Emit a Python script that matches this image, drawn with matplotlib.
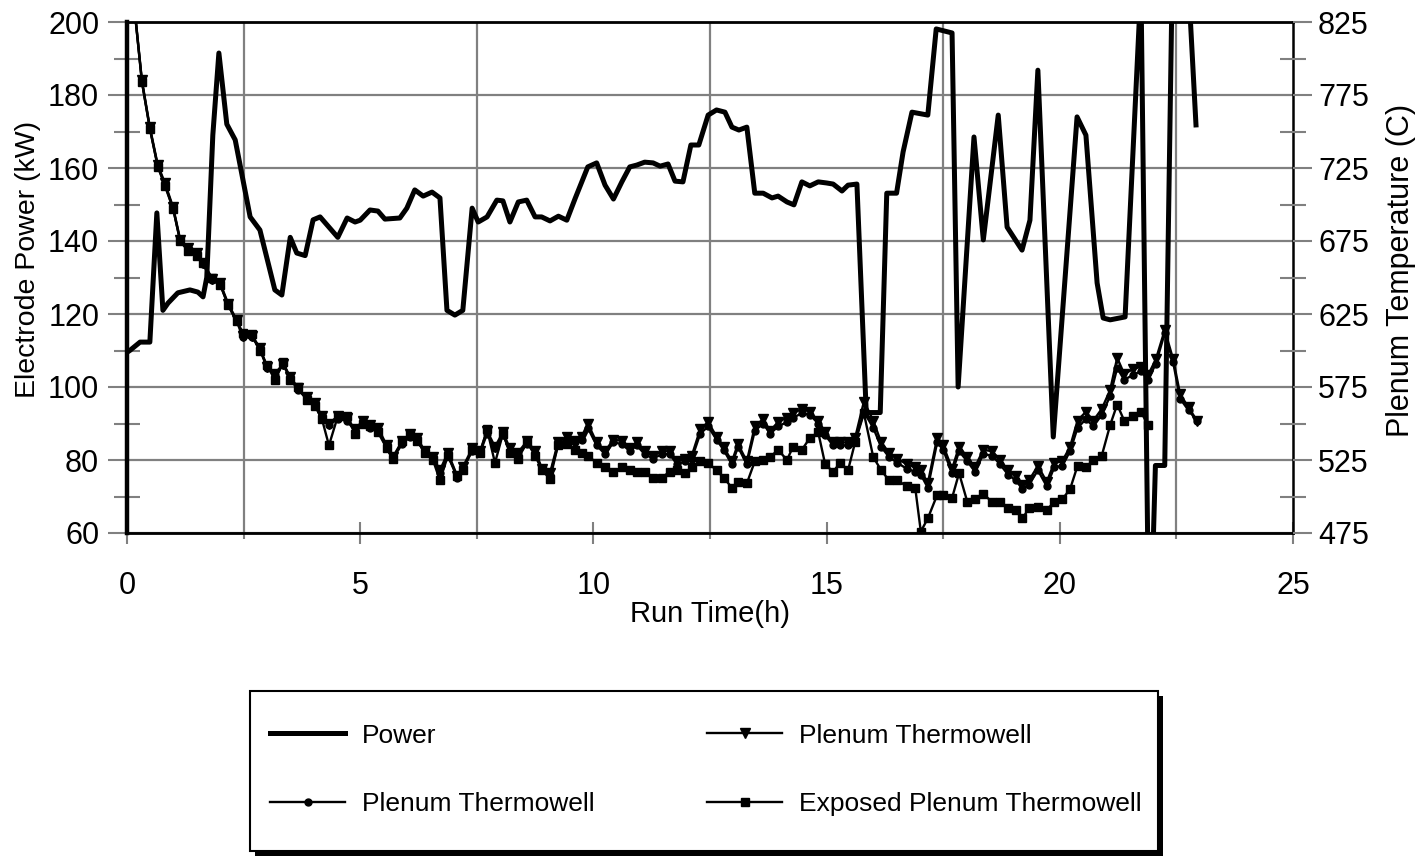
import matplotlib
matplotlib.use("Agg")
import matplotlib.pyplot as plt
from matplotlib.patches import Rectangle
from matplotlib.ticker import MultipleLocator, FixedLocator

plt.rcParams['font.family'] = ['Liberation Sans', 'DejaVu Sans']

# electrode power (kW) vs run time (h)
t_power = [0.00, 0.06, 0.28, 0.49, 0.64, 0.77, 0.88, 1.09, 1.35, 1.52,
           1.63, 1.71, 1.84, 1.97, 2.14, 2.32, 2.64, 2.85, 3.17, 3.32,
           3.50, 3.64, 3.82, 3.99, 4.14, 4.52, 4.72, 4.89, 5.00, 5.21,
           5.38, 5.53, 5.85, 6.00, 6.17, 6.35, 6.54, 6.71, 6.86, 7.03,
           7.20, 7.40, 7.53, 7.72, 7.93, 8.06, 8.21, 8.39, 8.57, 8.75,
           8.89, 9.07, 9.25, 9.43, 9.61, 9.88, 10.07, 10.25, 10.43, 10.61,
           10.78, 10.93, 11.10, 11.28, 11.43, 11.60, 11.75, 11.92, 12.09, 12.26,
           12.46, 12.64, 12.82, 12.97, 13.12, 13.29, 13.46, 13.64, 13.83, 13.96,
           14.15, 14.30, 14.47, 14.64, 14.82, 15.00, 15.14, 15.33, 15.46, 15.65,
           15.85, 16.15, 16.29, 16.50, 16.64, 16.83, 17.17, 17.35, 17.69, 17.82,
           18.16, 18.36, 18.68, 18.87, 19.19, 19.36, 19.53, 19.86, 20.37, 20.56,
           20.80, 20.93, 21.08, 21.40, 21.74, 21.92, 22.05, 22.25, 22.42, 22.76,
           22.92]
power = [109.5, 110.0, 112.3, 112.3, 147.7, 121.0, 123.0, 125.8, 126.6, 126.0,
         124.7, 130.0, 169.0, 191.5, 172.0, 167.7, 146.6, 143.0, 126.6, 125.2,
         141.0, 136.7, 136.0, 145.8, 146.6, 141.0, 146.3, 145.2, 145.7, 148.5,
         148.2, 146.0, 146.3, 149.0, 154.0, 152.3, 153.4, 151.8, 121.0, 119.7,
         121.0, 149.0, 145.2, 146.6, 151.2, 151.0, 145.2, 150.7, 151.2, 146.6,
         146.6, 145.5, 146.8, 145.7, 151.7, 160.3, 161.4, 155.3, 151.5, 156.2,
         160.3, 160.8, 161.6, 161.4, 160.5, 161.1, 156.4, 156.2, 166.3, 166.3,
         174.5, 175.9, 175.3, 171.2, 170.4, 171.2, 153.1, 153.1, 151.8, 152.3,
         150.7, 149.9, 156.2, 155.1, 156.2, 155.9, 155.6, 153.7, 155.3, 155.6,
         93.0, 93.0, 153.1, 153.1, 164.4, 175.3, 174.5, 198.1, 197.0, 100.0,
         168.5, 140.3, 174.5, 143.8, 137.5, 145.7, 186.8, 86.3, 174.0, 169.0,
         128.5, 118.9, 118.4, 119.2, 210.0, 20.0, 78.5, 78.5, 220.0, 210.0,
         171.8]

# plenum temperatures (C)
t_temp = [0.17, 0.32, 0.49, 0.66, 0.81, 0.99, 1.14, 1.31, 1.50, 1.63,
          1.82, 2.00, 2.17, 2.35, 2.49, 2.68, 2.85, 3.00, 3.17, 3.35,
          3.50, 3.67, 3.85, 4.03, 4.18, 4.33, 4.52, 4.71, 4.89, 5.06,
          5.21, 5.38, 5.57, 5.70, 5.90, 6.07, 6.22, 6.39, 6.56, 6.71,
          6.88, 7.08, 7.20, 7.40, 7.57, 7.72, 7.89, 8.06, 8.21, 8.38,
          8.58, 8.75, 8.90, 9.07, 9.24, 9.43, 9.60, 9.75, 9.88, 10.07,
          10.25, 10.43, 10.61, 10.78, 10.93, 11.10, 11.28, 11.47, 11.64, 11.79,
          11.96, 12.11, 12.29, 12.46, 12.64, 12.79, 12.97, 13.10, 13.29, 13.46,
          13.64, 13.79, 13.96, 14.15, 14.28, 14.47, 14.64, 14.82, 14.97, 15.14,
          15.29, 15.46, 15.61, 15.80, 16.00, 16.17, 16.34, 16.52, 16.72, 16.90,
          17.02, 17.17, 17.37, 17.50, 17.69, 17.84, 18.02, 18.18, 18.36, 18.55,
          18.72, 18.89, 19.06, 19.20, 19.34, 19.53, 19.72, 19.88, 20.05, 20.22,
          20.38, 20.56, 20.72, 20.90, 21.08, 21.23, 21.38, 21.56, 21.74, 21.89,
          22.06, 22.25, 22.43, 22.58, 22.76, 22.94]
thermowell_a = [832, 785, 753, 727, 715, 698, 676, 670, 667, 660,
                649, 646, 632, 621, 610, 610, 602, 589, 584, 591,
                582, 574, 568, 564, 555, 550, 555, 554, 546, 552,
                549, 547, 535, 527, 538, 543, 540, 531, 527, 518,
                530, 514, 520, 533, 531, 545, 534, 544, 533, 530,
                538, 531, 519, 516, 537, 541, 538, 541, 550, 537,
                531, 539, 538, 533, 537, 531, 528, 531, 531, 524,
                526, 528, 546, 551, 541, 534, 524, 536, 524, 548,
                553, 545, 551, 554, 557, 560, 558, 552, 544, 537,
                537, 537, 540, 565, 552, 537, 530, 526, 522, 520,
                518, 509, 540, 535, 519, 534, 527, 520, 532, 531,
                525, 518, 514, 508, 511, 521, 510, 523, 524, 534,
                552, 558, 552, 560, 573, 595, 584, 587, 589, 583,
                594, 614, 594, 570, 561, 552]
thermowell_b = [831, 784, 752, 726, 714, 697, 675, 669, 666, 659,
                648, 645, 631, 620, 609, 609, 601, 588, 583, 590,
                581, 573, 567, 563, 554, 549, 553, 552, 545, 550,
                547, 546, 534, 526, 536, 541, 538, 530, 526, 516,
                528, 513, 519, 531, 530, 543, 533, 542, 532, 529,
                536, 530, 518, 515, 535, 539, 537, 539, 547, 535,
                529, 537, 536, 531, 535, 529, 526, 529, 529, 522,
                524, 526, 543, 548, 539, 532, 522, 534, 522, 545,
                550, 543, 548, 551, 554, 557, 556, 550, 542, 535,
                535, 535, 538, 558, 547, 534, 527, 523, 519, 517,
                515, 506, 537, 532, 516, 531, 524, 517, 529, 528,
                522, 515, 511, 505, 508, 518, 507, 520, 521, 531,
                547, 553, 548, 556, 569, 588, 580, 583, 586, 580,
                591, 612, 592, 567, 559, 552]
exposed = [831, 784, 752, 726, 713, 697, 675, 668, 665, 660,
           650, 645, 631, 620, 612, 611, 600, 590, 580, 592,
           580, 575, 566, 562, 553, 535, 555, 555, 543, 550,
           548, 544, 533, 526, 538, 542, 538, 530, 525, 511,
           528, 514, 518, 532, 530, 546, 523, 543, 530, 526,
           537, 528, 518, 512, 535, 536, 532, 530, 528, 523,
           520, 517, 520, 518, 517, 517, 513, 513, 517, 518,
           516, 520, 524, 523, 518, 513, 506, 510, 509, 524,
           525, 527, 532, 525, 534, 532, 540, 544, 522, 517,
           523, 518, 537, 557, 527, 518, 511, 511, 507, 506,
           476, 485, 501, 501, 499, 516, 496, 498, 502, 496,
           496, 492, 491, 485, 492, 493, 491, 496, 498, 505,
           521, 520, 525, 528, 549, 563, 552, 555, 558, 549]

grid_gray = '#808080'

fig = plt.figure(figsize=(14.16, 8.56), dpi=100)
ax = fig.add_axes([127 / 1416, 1 - 533 / 856, 1166 / 1416, 511 / 856])
ax2 = ax.twinx()

p_line, = ax.plot(t_power, power, color='black', lw=3.6, zorder=3)

a_line, = ax2.plot(t_temp, thermowell_a, marker='v', markersize=6.5, color='black', lw=1.7)
b_line, = ax2.plot(t_temp, thermowell_b, marker='o', markersize=5, color='black', lw=1.7)
e_line, = ax2.plot(t_temp[:len(exposed)], exposed, marker='s', markersize=6,
                   color='black', lw=1.7)

# left axis
ax.set_xlim(0, 25)
ax.set_ylim(60, 200)
ax.set_xticks([0, 5, 10, 15, 20, 25])
ax.xaxis.set_minor_locator(FixedLocator([2.5, 7.5, 12.5, 17.5, 22.5]))
ax.set_yticks(range(60, 201, 20))
ax.yaxis.set_minor_locator(MultipleLocator(10))
ax.tick_params(axis='x', which='major', direction='inout', length=16, width=1.5,
               color=grid_gray, pad=19, labelsize=22)
ax.tick_params(axis='x', which='minor', direction='out', length=4, width=1.5, color=grid_gray)
ax.tick_params(axis='y', which='major', direction='out', length=14, width=1.5,
               color=grid_gray, pad=6, labelsize=22)
ax.tick_params(axis='y', which='minor', direction='inout', length=19, width=1.5, color=grid_gray)
ax.grid(axis='x', which='minor', color=grid_gray, lw=1.6)
ax.grid(axis='y', which='major', color=grid_gray, lw=1.6)
ax.set_axisbelow(True)

# right axis
ax2.set_ylim(475, 825)
ax2.set_yticks(range(475, 826, 50))
ax2.yaxis.set_minor_locator(MultipleLocator(25))
ax2.tick_params(axis='y', which='major', direction='out', length=14, width=1.5,
                color=grid_gray, pad=4, labelsize=22)
ax2.tick_params(axis='y', which='minor', direction='inout', length=19, width=1.5, color=grid_gray)

for s in ax2.spines.values():
    s.set_visible(False)
ax.spines['left'].set_linewidth(3.2)
ax.spines['top'].set_linewidth(2)
ax.spines['bottom'].set_linewidth(2)
ax.spines['right'].set_linewidth(1.8)
for s in ax.spines.values():
    s.set_color('black')

ax.set_xlabel('Run Time(h)', fontsize=21, labelpad=0)
ax.set_ylabel('Electrode Power (kW)', fontsize=20.5)
ax.yaxis.set_label_coords(-0.0738, 0.536)
ax2.set_ylabel('Plenum Temperature (C)', fontsize=22)
ax2.yaxis.set_label_coords(1.0797, 0.513)

# legend box with a solid drop shadow
bx, by, bw, bh = 250 / 1416, 5 / 856, 908 / 1416, 160 / 856
fig.add_artist(Rectangle((bx + 5 / 1416, by - 5 / 856), bw, bh, transform=fig.transFigure,
                         facecolor='black', edgecolor='black', lw=0))
fig.add_artist(Rectangle((bx, by), bw, bh, transform=fig.transFigure,
                         facecolor='white', edgecolor='black', lw=1.5))

leg = fig.legend([p_line, b_line, a_line, e_line],
                 ['Power', 'Plenum Thermowell', 'Plenum Thermowell', 'Exposed Plenum Thermowell'],
                 ncol=2, loc='center left', mode='expand',
                 bbox_to_anchor=(270 / 1416, 1 - 770 / 856, 872 / 1416, 0),
                 frameon=False, fontsize=19, borderpad=0, borderaxespad=0,
                 handlelength=2.85, handletextpad=0.65, labelspacing=1.7)

fig.savefig('out.png', dpi=100)
